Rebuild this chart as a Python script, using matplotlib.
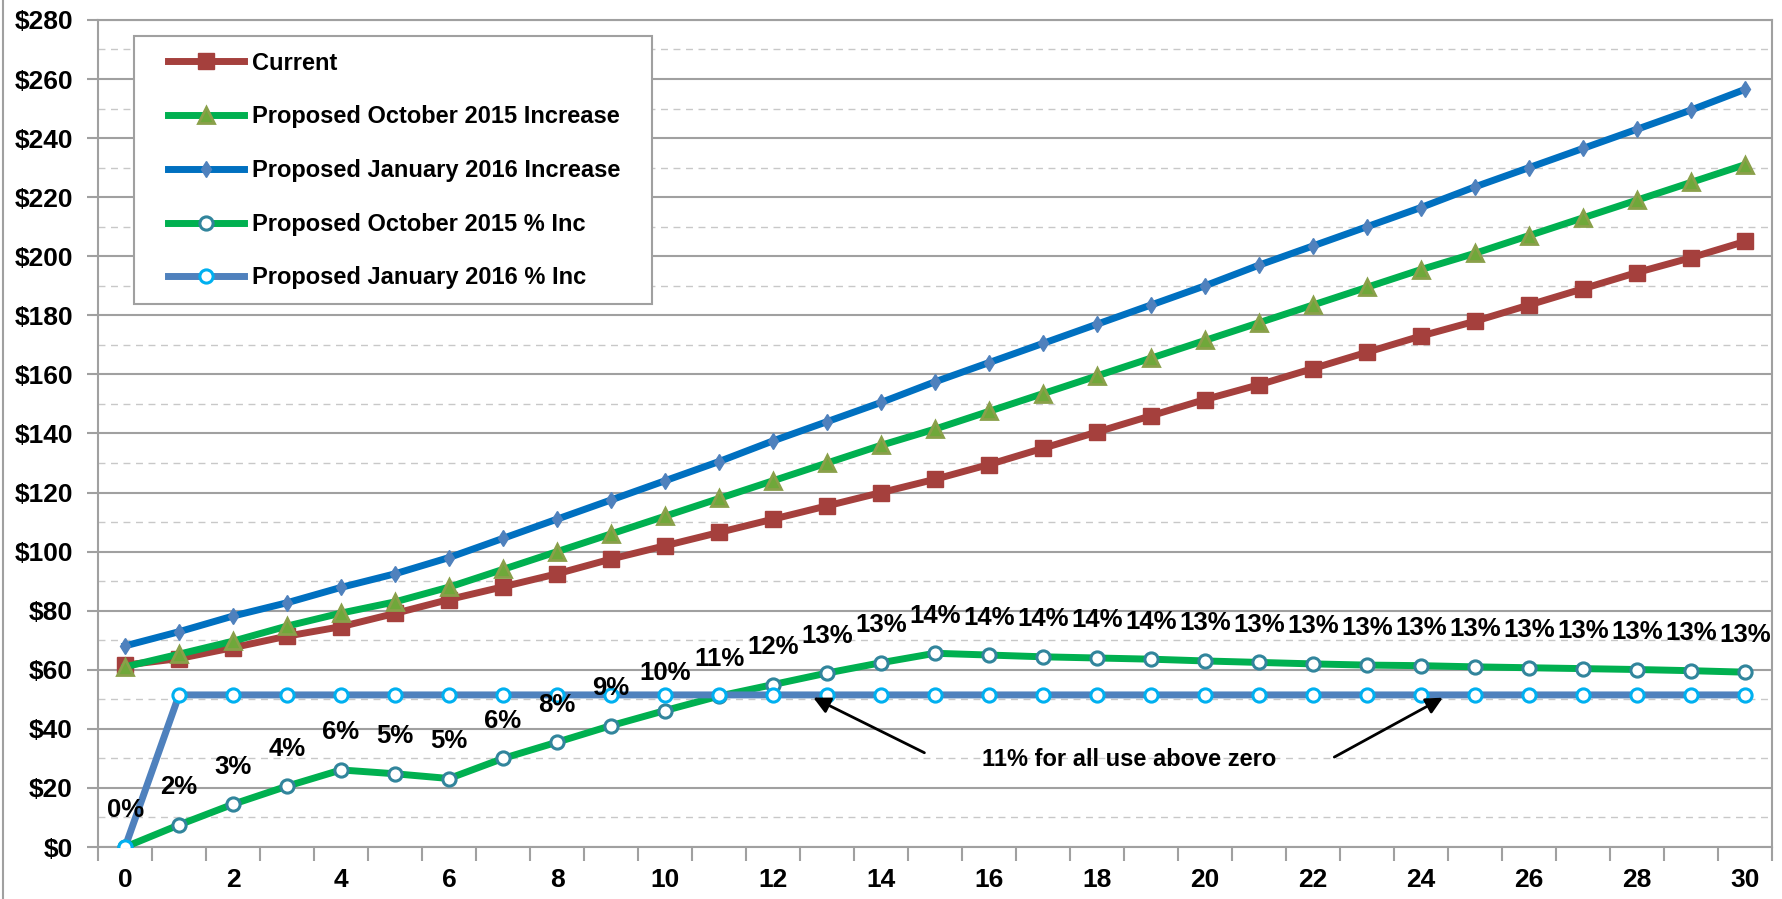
import matplotlib
matplotlib.use("Agg")
import matplotlib.pyplot as plt
from matplotlib.ticker import MultipleLocator, FixedLocator
from matplotlib.patches import Rectangle
from matplotlib.lines import Line2D

plt.rcParams['font.family'] = ['Liberation Sans Narrow', 'Liberation Sans', 'DejaVu Sans']
plt.rcParams['font.weight'] = 'bold'

# usage points 0..30
usage = list(range(31))

# monthly bill, $
current = [61.6, 63.8, 67.5, 71.4, 74.6, 79.1, 83.8, 88.1, 92.5, 97.5, 102.0,
           106.5, 111.0, 115.5, 120.0, 124.5, 129.5, 135.0, 140.5, 146.0, 151.5,
           156.5, 162.0, 167.5, 173.0, 178.0, 183.5, 189.0, 194.5, 199.5, 205.0]
oct_2015 = [61.0, 65.3, 69.7, 74.8, 79.2, 83.0, 88.0, 94.0, 100.0, 106.0, 112.0,
            118.0, 124.0, 130.0, 136.0, 141.5, 147.5, 153.5, 159.5, 165.5, 171.5,
            177.5, 183.5, 189.5, 195.5, 201.0, 207.0, 213.0, 219.0, 225.0, 231.0]
jan_2016 = [68.1, 72.9, 78.2, 82.7, 87.9, 92.5, 98.0, 104.5, 111.0, 117.5, 124.0,
            130.5, 137.5, 144.0, 150.5, 157.5, 164.0, 170.5, 177.0, 183.5, 190.0,
            197.0, 203.5, 210.0, 216.5, 223.5, 230.0, 236.5, 243.0, 249.5, 256.5]

# % increase series, drawn on the dollar scale as in the original chart
oct_pct_pos = [0.0, 7.5, 14.5, 20.6, 26.1, 24.8, 23.2, 30.0, 35.5, 41.1, 46.2,
               51.1, 55.0, 58.9, 62.4, 65.6, 65.0, 64.4, 64.0, 63.6, 63.0,
               62.5, 62.0, 61.6, 61.4, 61.0, 60.7, 60.4, 60.1, 59.7, 59.2]
jan_pct_pos = [0.0] + [51.5] * 30
oct_pct_labels = ['0%', '2%', '3%', '4%', '6%', '5%', '5%', '6%', '8%', '9%', '10%',
                  '11%', '12%', '13%', '13%', '14%', '14%', '14%', '14%', '14%', '13%',
                  '13%', '13%', '13%', '13%', '13%', '13%', '13%', '13%', '13%', '13%']

fig = plt.figure(figsize=(17.83, 8.99), dpi=100)
ax = fig.add_axes([0.055, 0.0578, 0.9388, 0.92])

ax.plot(usage, current, color='#A5403D', lw=5, marker='s', ms=11,
        mfc='#A5403D', mec='#A5403D', label='Current', zorder=3)
ax.plot(usage, oct_2015, color='#00B050', lw=5, marker='^', ms=12,
        mfc='#6FA83A', mec='#8AA04A', mew=2, label='Proposed October 2015 Increase', zorder=3)
ax.plot(usage, jan_2016, color='#0070C0', lw=5, marker='d', ms=8,
        mfc='#4F81BD', mec='#4F81BD', label='Proposed January 2016 Increase', zorder=3)
ax.plot(usage, oct_pct_pos, color='#00B050', lw=5, marker='o', ms=9.5,
        mfc='white', mec='#31859C', mew=2.2, label='Proposed October 2015 % Inc', zorder=3)
ax.plot(usage, jan_pct_pos, color='#4F81BD', lw=5, marker='o', ms=9.5,
        mfc='white', mec='#00B0F0', mew=2.2, label='Proposed January 2016 % Inc', zorder=3)

for x, y, t in zip(usage, oct_pct_pos, oct_pct_labels):
    ax.annotate(t, (x, y), xytext=(0, 27), textcoords='offset points',
                ha='center', va='center', fontsize=18.5, zorder=5)

# annotation with two arrows
ax.text(18.6, 29.6, '11% for all use above zero', ha='center', va='center', fontsize=17)
ax.annotate('', xy=(12.7, 51.0), xytext=(14.85, 31.5),
            arrowprops=dict(arrowstyle='-|>', color='black', lw=2, mutation_scale=25))
ax.annotate('', xy=(24.45, 51.0), xytext=(22.35, 30.0),
            arrowprops=dict(arrowstyle='-|>', color='black', lw=2, mutation_scale=25))

# axes
ax.set_xlim(-0.5, 30.5)
ax.set_ylim(0, 280)
ax.yaxis.set_major_locator(MultipleLocator(20))
ax.yaxis.set_minor_locator(MultipleLocator(10))
ax.set_yticklabels([f'${int(v)}' for v in ax.get_yticks()], fontsize=19)
ax.set_xticks(range(0, 31, 2))
ax.set_xticklabels([str(v) for v in range(0, 31, 2)], fontsize=19)
ax.xaxis.set_minor_locator(FixedLocator([v - 0.5 for v in range(32)]))
ax.tick_params(axis='x', which='major', length=0, pad=15)
ax.tick_params(axis='x', which='minor', length=10, width=1.5, color='#A0A0A0')
ax.tick_params(axis='y', which='major', length=8, width=1.5, color='#A0A0A0', pad=10)
ax.tick_params(axis='y', which='minor', length=0)

ax.grid(axis='y', which='major', color='#A0A0A0', lw=1.5)
ax.grid(axis='y', which='minor', color='#C8C8C8', lw=1, ls=(0, (5, 4)))
ax.set_axisbelow(True)
for s in ax.spines.values():
    s.set_color('#A0A0A0')
    s.set_linewidth(1.5)

# legend box and entries
ax.add_patch(Rectangle((0.0752, 0.6618), 0.2905, 0.2982, transform=fig.transFigure,
                       facecolor='white', edgecolor='#A0A0A0', lw=1.5, zorder=6,
                       clip_on=False))
leg = ax.legend(loc='upper left', bbox_to_anchor=(0.0943, 0.9425),
                bbox_transform=fig.transFigure, fontsize=17, frameon=False,
                handlelength=3.2, labelspacing=1.3, borderpad=0, borderaxespad=0,
                handletextpad=0.35)
leg.set_zorder(7)

# outer chart border on the left
fig.add_artist(Line2D([0.0015, 0.0015], [0, 1], transform=fig.transFigure,
                      color='#A0A0A0', lw=1.5))

plt.savefig('out.png', dpi=100)
